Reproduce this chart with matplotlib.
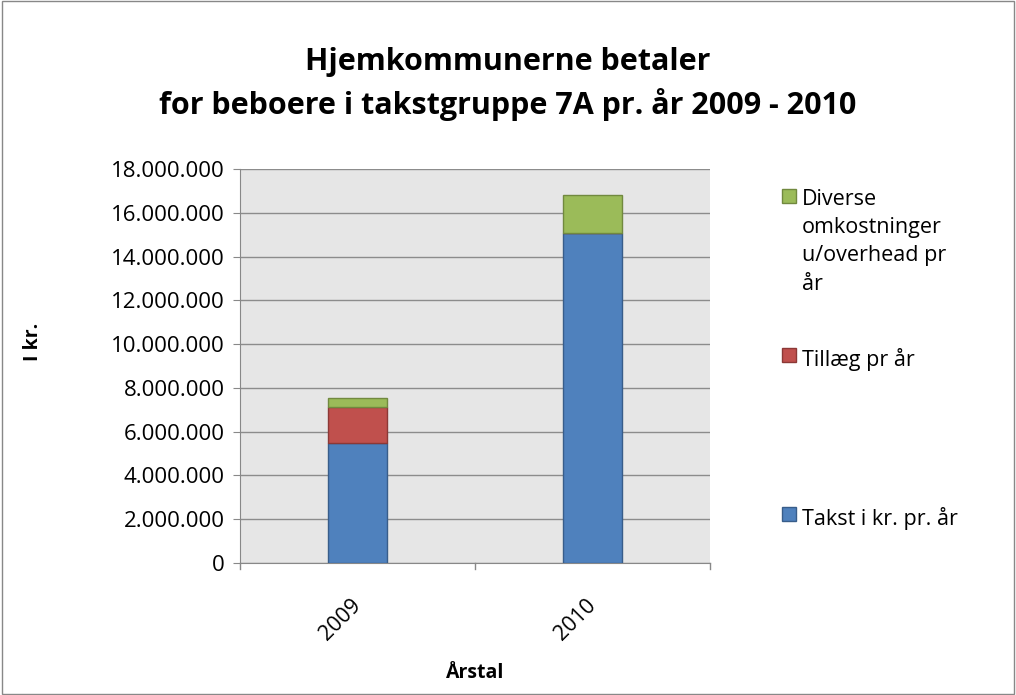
import matplotlib.pyplot as plt
from matplotlib.patches import Rectangle
from matplotlib.ticker import FuncFormatter

years = ['2009', '2010']
takst = [5470000, 15090000]
tillaeg = [1640000, 0]
diverse = [430000, 1720000]

series_names = ['Takst i kr. pr. år', 'Tillæg pr år', 'Diverse\nomkostninger\nu/overhead pr\når']
colors = ['#4f81bd', '#c0504d', '#9bbb59']
edges = ['#385d8a', '#8c3836', '#71893f']

plt.rcParams['font.family'] = ['Open Sans', 'DejaVu Sans']

fig = plt.figure(figsize=(10.16, 6.95), dpi=100)
fig.patches.append(Rectangle((0.002, 0.002), 0.996, 0.996, transform=fig.transFigure,
                             fill=False, edgecolor='#888888', linewidth=1))
ax = fig.add_axes([240 / 1016, 1 - 563 / 695, 470 / 1016, 394 / 695])
ax.set_facecolor('#e6e6e6')

x = range(len(years))
bottom2 = [a + b for a, b in zip(takst, tillaeg)]
w = 0.255
ax.bar(x, takst, w, color=colors[0], edgecolor=edges[0], linewidth=1, zorder=3)
ax.bar(x, tillaeg, w, bottom=takst, color=colors[1], edgecolor=edges[1], linewidth=1, zorder=3)
ax.bar(x, diverse, w, bottom=bottom2, color=colors[2], edgecolor=edges[2], linewidth=1, zorder=3)

ax.set_xlim(-0.5, 1.5)
ax.set_ylim(0, 18000000)
ax.set_yticks(range(0, 18000001, 2000000))
ax.yaxis.set_major_formatter(FuncFormatter(lambda v, p: f'{int(v):,}'.replace(',', '.')))
ax.grid(axis='y', color='#8c8c8c', linewidth=1, zorder=0)
ax.set_xticks(list(x))
ax.set_xticklabels(years, rotation=45, fontsize=15.5, ha='right', va='center',
                   rotation_mode='anchor')
ax.tick_params(axis='y', labelsize=16, length=5, color='#888888', pad=6)
ax.tick_params(axis='x', length=0, pad=28)
# category dividers
for xv in [-0.5, 0.5, 1.5]:
    ax.plot([xv, xv], [0, -0.015], transform=ax.get_xaxis_transform(), clip_on=False,
            color='#888888', linewidth=1)
for s in ['top', 'right']:
    ax.spines[s].set_visible(False)
ax.spines['left'].set_color('#888888')
ax.spines['bottom'].set_color('#888888')

fig.text(33 / 1016, 1 - 342 / 695, 'I kr.', rotation=90, ha='center', va='center',
         fontsize=14, fontweight='bold')
fig.text(475 / 1016, 1 - 673 / 695, 'Årstal', ha='center', va='center',
         fontsize=14, fontweight='bold')

fig.text(0.5, 1 - 84 / 695, 'Hjemkommunerne betaler\nfor beboere i takstgruppe 7A pr. år 2009 - 2010',
         ha='center', va='center', fontsize=22, fontweight='bold', linespacing=1.4)

# legend, placed entries
legend_y = [196 / 695, 355 / 695, 514 / 695]
order = [2, 1, 0]
for yy, i in zip(legend_y, order):
    fig.patches.append(Rectangle((782 / 1016, 1 - yy - 7 / 695), 14 / 1016, 14 / 695,
                                 transform=fig.transFigure, facecolor=colors[i],
                                 edgecolor=edges[i], linewidth=1))
    fig.text(802 / 1016, 1 - yy + 7 / 695, series_names[i], ha='left', va='top',
             fontsize=15.5, linespacing=1.45)

fig.savefig('out.png', dpi=100)
